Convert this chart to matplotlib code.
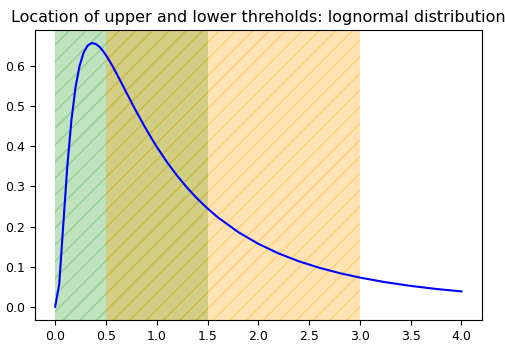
import numpy as np
import matplotlib.pyplot as plt

# Values (lognormal density curve)
x = [0.0, 0.04, 0.08, 0.12, 0.16, 0.20, 0.24, 0.28, 0.32, 0.36, 0.40,
     0.44, 0.48, 0.52, 0.56, 0.60, 0.64, 0.68, 0.72, 0.76, 0.80, 0.88,
     0.96, 1.0, 1.1, 1.2, 1.3, 1.4, 1.5, 1.6, 1.8, 2.0, 2.2, 2.4, 2.6,
     2.8, 3.0, 3.25, 3.5, 3.75, 4.0]
y = [0.0, 0.0561, 0.2053, 0.3512, 0.4651, 0.5463, 0.6004, 0.6337, 0.6514,
     0.6576, 0.6554, 0.6473, 0.6348, 0.6195, 0.6022, 0.5836, 0.5643,
     0.5446, 0.5250, 0.5055, 0.4864, 0.4497, 0.4152, 0.3989, 0.3610,
     0.3270, 0.2965, 0.2693, 0.2450, 0.2233, 0.1865, 0.1569, 0.1329,
     0.1133, 0.0972, 0.0839, 0.0727, 0.0613, 0.0520, 0.0444, 0.0382]

lower = (0.0, 1.5)
upper = (0.5, 3.0)

fig = plt.figure(figsize=(5.05, 3.47), dpi=100)
ax = fig.add_axes([0.069, 0.078, 0.885, 0.836])

ax.axvspan(lower[0], lower[1], color="tab:green", alpha=0.3, hatch="//", lw=0)
ax.axvspan(upper[0], upper[1], color="orange", alpha=0.3, hatch="//", lw=0)
ax.plot(x, y, color="blue", lw=1.5)

ax.set_title("Location of upper and lower threholds: lognormal distribution",
             fontsize=11.5)
ax.set_xticks(np.arange(0, 4.01, 0.5))
ax.tick_params(labelsize=9)

plt.savefig("out.png")
